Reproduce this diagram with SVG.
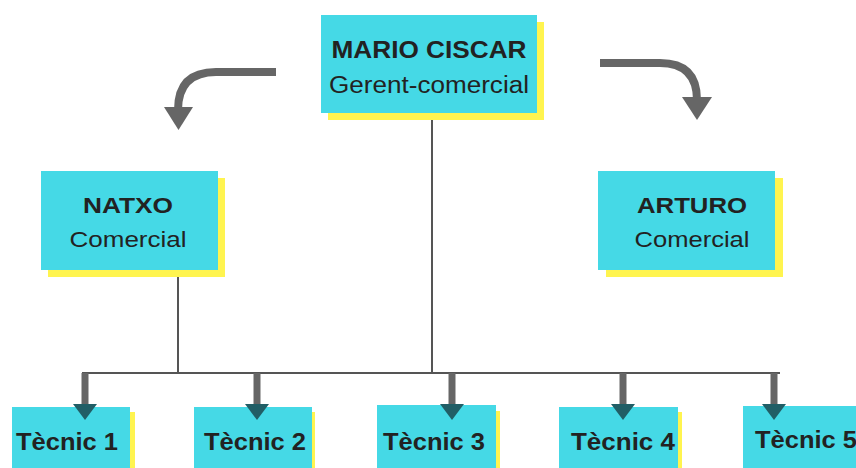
<svg xmlns="http://www.w3.org/2000/svg" width="856" height="468" viewBox="0 0 856 468">
<style>
.box{fill:#45d9e6}
.sh{fill:#fff44f}
.t{font-family:"Liberation Sans",Arial,sans-serif;fill:#222;text-anchor:middle;font-size:22px}
.m{font-size:23px}
.b{font-weight:bold}
.tb{font-family:"Liberation Sans",Arial,sans-serif;fill:#222;text-anchor:middle;font-size:24px;font-weight:bold}
.ln{stroke:#555;stroke-width:2;fill:none}
.shaft{stroke:#666;stroke-width:7;fill:none}
.head{fill:#215e66}
.curve{stroke:#666;stroke-width:8;fill:none}
.chead{fill:#666}
</style>
<rect width="856" height="468" fill="#fff"/>
<g id="connectors">
<line class="ln" x1="432" y1="113" x2="432" y2="374"/>
<line class="ln" x1="178" y1="270" x2="178" y2="374"/>
<line class="ln" x1="82" y1="373" x2="780" y2="373"/>
<path class="curve" d="M276 72 L216 72 Q178 72 178 110"/>
<polygon class="chead" points="164,107 193,107 178.5,130"/>
<path class="curve" d="M600 63 L660 63 Q697 63 697 100"/>
<polygon class="chead" points="682,97 712,97 697,120"/>
<line class="shaft" x1="85" y1="373" x2="85" y2="406"/>
<line class="shaft" x1="257" y1="373" x2="257" y2="406"/>
<line class="shaft" x1="452" y1="373" x2="452" y2="406"/>
<line class="shaft" x1="623" y1="373" x2="623" y2="406"/>
<line class="shaft" x1="774" y1="373" x2="774" y2="406"/>
</g>
<g id="mario">
<rect class="sh" x="328" y="22" width="216" height="98"/>
<rect class="box" x="321" y="15" width="216" height="98"/>
<text class="t m b" x="429" y="58" textLength="195" lengthAdjust="spacingAndGlyphs">MARIO CISCAR</text>
<text class="t m" x="429" y="93" textLength="200" lengthAdjust="spacingAndGlyphs">Gerent-comercial</text>
</g>
<g id="natxo">
<rect class="sh" x="48" y="178" width="177" height="99"/>
<rect class="box" x="41" y="171" width="177" height="99"/>
<text class="t b" x="128" y="213" textLength="90" lengthAdjust="spacingAndGlyphs">NATXO</text>
<text class="t" x="128" y="247" textLength="117" lengthAdjust="spacingAndGlyphs">Comercial</text>
</g>
<g id="arturo">
<rect class="sh" x="606" y="178" width="177" height="99"/>
<rect class="box" x="598" y="171" width="177" height="99"/>
<text class="t b" x="692" y="213" textLength="110" lengthAdjust="spacingAndGlyphs">ARTURO</text>
<text class="t" x="692" y="247" textLength="115" lengthAdjust="spacingAndGlyphs">Comercial</text>
</g>
<g id="tecnic1">
<rect class="sh" x="16" y="412" width="119" height="70"/>
<rect class="box" x="12" y="407" width="118" height="75"/>
<polygon class="head" points="73,404 97,404 85,420"/>
<text class="tb" x="67" y="450" textLength="102" lengthAdjust="spacingAndGlyphs">Tècnic 1</text>
</g>
<g id="tecnic2">
<rect class="sh" x="198" y="412" width="117" height="70"/>
<rect class="box" x="194" y="407" width="118" height="75"/>
<polygon class="head" points="245,404 269,404 257,420"/>
<text class="tb" x="255" y="450" textLength="102" lengthAdjust="spacingAndGlyphs">Tècnic 2</text>
</g>
<g id="tecnic3">
<rect class="sh" x="381" y="411" width="119" height="70"/>
<rect class="box" x="377" y="405" width="119" height="77"/>
<polygon class="head" points="440,404 464,404 452,420"/>
<text class="tb" x="434" y="450" textLength="102" lengthAdjust="spacingAndGlyphs">Tècnic 3</text>
</g>
<g id="tecnic4">
<rect class="sh" x="563" y="412" width="119" height="70"/>
<rect class="box" x="559" y="407" width="119" height="75"/>
<polygon class="head" points="611,404 635,404 623,420"/>
<text class="tb" x="623" y="450" textLength="104" lengthAdjust="spacingAndGlyphs">Tècnic 4</text>
</g>
<g id="tecnic5">
<rect class="box" x="743" y="406" width="120" height="76"/>
<polygon class="head" points="762,404 786,404 774,420"/>
<text class="tb" x="806" y="448" textLength="102" lengthAdjust="spacingAndGlyphs">Tècnic 5</text>
</g>
</svg>
